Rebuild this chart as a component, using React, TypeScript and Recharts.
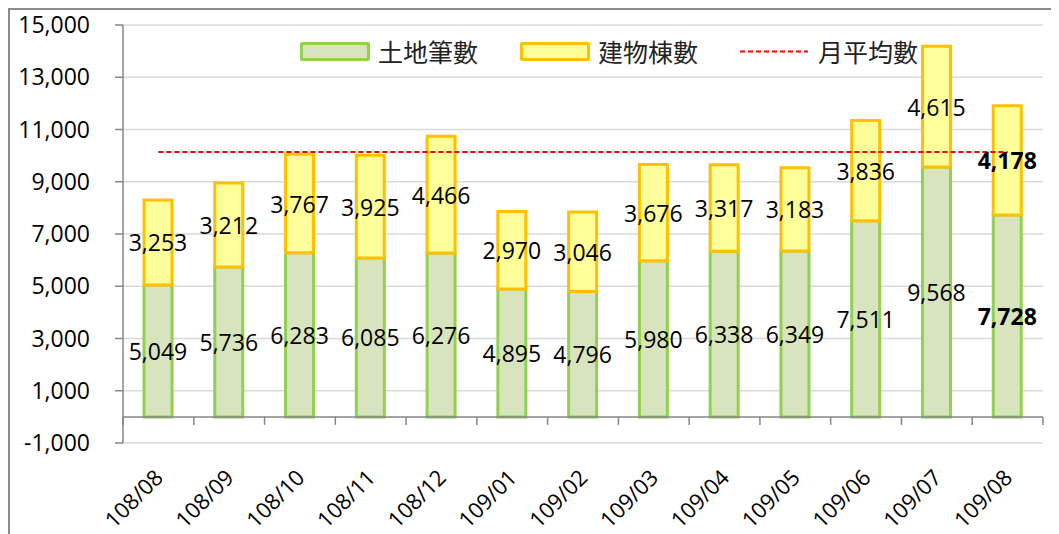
import { Bar, CartesianGrid, ComposedChart, LabelList, Legend, Line, ReferenceLine, XAxis, YAxis } from 'recharts';

const months = ['108/08', '108/09', '108/10', '108/11', '108/12', '109/01', '109/02', '109/03', '109/04', '109/05', '109/06', '109/07', '109/08'];
const landCounts = [5049, 5736, 6283, 6085, 6276, 4895, 4796, 5980, 6338, 6349, 7511, 9568, 7728];
const buildingCounts = [3253, 3212, 3767, 3925, 4466, 2970, 3046, 3676, 3317, 3183, 3836, 4615, 4178];
const monthlyAverage = [10140, 10140, 10140, 10140, 10140, 10140, 10140, 10140, 10140, 10140, 10140, 10140, 10140];
const yTicks = [-1000, 1000, 3000, 5000, 7000, 9000, 11000, 13000, 15000];

const data = months.map((m, i) => ({
  month: m,
  land: landCounts[i],
  building: buildingCounts[i],
  avg: monthlyAverage[i],
}));

const FONT = '"Open Sans", "Noto Sans", sans-serif';
const CJK = '"Noto Sans CJK TC", "Noto Sans", sans-serif';
const AXIS = '#868686';

const fmt = (v: number) => v.toLocaleString('en-US');

const BarLabel = (props: any) => {
  const { x, y, width, height, value, index } = props;
  const last = index === months.length - 1 || value === landCounts[12] || value === buildingCounts[12];
  return (
    <text
      x={x + width / 2}
      y={y + height / 2}
      textAnchor='middle'
      dominantBaseline='central'
      fontFamily={FONT}
      fontSize={23}
      fontWeight={last ? 700 : 400}
      fill='#000'
    >
      {fmt(value)}
    </text>
  );
};

const MonthTick = (props: any) => {
  const { x, y, payload } = props;
  return (
    <text
      transform={`translate(${x + 6},${y + 36}) rotate(-45)`}
      textAnchor='end'
      fontFamily={FONT}
      fontSize={22}
      fill='#000'
    >
      {payload.value}
    </text>
  );
};

// category axis drawn at zero, ticks between months
const ZeroAxis = (props: any) => {
  const { x1, x2, y1 } = props;
  const step = (x2 - x1) / months.length;
  return (
    <g>
      <line x1={x1} x2={x2} y1={y1} y2={y1} stroke={AXIS} strokeWidth={1.5} />
      {months.concat(['']).map((_, i) => (
        <line key={i} x1={x1 + i * step} x2={x1 + i * step} y1={y1} y2={y1 + 8} stroke={AXIS} strokeWidth={1.5} />
      ))}
    </g>
  );
};

const legendItems = [
  { label: '土地筆數', left: 290, kind: 'box', fill: '#D7E4BD', stroke: '#92D050' },
  { label: '建物棟數', left: 510, kind: 'box', fill: '#FFFF99', stroke: '#FFC000' },
  { label: '月平均數', left: 730, kind: 'line', fill: '', stroke: '#FF0000' },
];

const ChartLegend = () => (
  <div style={{ position: 'relative', height: 40 }}>
    {legendItems.map((it) => (
      <div
        key={it.label}
        style={{ position: 'absolute', left: it.left, top: 0, height: 40, display: 'flex', alignItems: 'center' }}
      >
        {it.kind === 'box' ? (
          <div
            style={{
              width: 70,
              height: 19,
              boxSizing: 'border-box',
              background: it.fill,
              border: `3px solid ${it.stroke}`,
              borderRadius: 2,
            }}
          />
        ) : (
          <svg width={70} height={19}>
            <line x1={0} x2={68} y1={9.5} y2={9.5} stroke={it.stroke} strokeWidth={2} strokeDasharray='5 3' />
          </svg>
        )}
        <span style={{ marginLeft: 8, fontFamily: CJK, fontSize: 25, color: '#222', lineHeight: '40px' }}>{it.label}</span>
      </div>
    ))}
  </div>
);

export default function App() {
  return (
    <div
      style={{
        width: 1051,
        height: 526,
        boxSizing: 'border-box',
        borderTop: '2px solid #8C8C8C',
        borderLeft: '2px solid #8C8C8C',
        background: '#fff',
      }}
    >
      <div style={{ marginTop: -10 }}>
        <ComposedChart width={1049} height={534} data={data} margin={{ top: 25, right: 16, left: 0, bottom: 0 }} barSize={28}>
          <CartesianGrid vertical={false} stroke='#D9D9D9' strokeWidth={1.5} />
          <XAxis
            dataKey='month'
            height={91}
            axisLine={false}
            tickLine={false}
            tickSize={0}
            tickMargin={0}
            interval={0}
            tick={<MonthTick />}
          />
          <YAxis
            width={113}
            domain={[-1000, 15000]}
            ticks={yTicks}
            interval={0}
            stroke={AXIS}
            axisLine={{ stroke: AXIS, strokeWidth: 1.5 }}
            tickLine={{ stroke: AXIS, strokeWidth: 1.5 }}
            tickSize={8}
            tickMargin={25}
            tickFormatter={fmt}
            tick={{ fill: '#000', fontFamily: FONT, fontSize: 23 }}
          />
          <Legend
            layout='horizontal'
            verticalAlign='middle'
            align='center'
            wrapperStyle={{ top: 31, left: 0, width: 1049, height: 40 }}
            content={() => <ChartLegend />}
          />
          <Bar dataKey='land' stackId='s' fill='#D7E4BD' stroke='#92D050' strokeWidth={3} isAnimationActive={false}>
            <LabelList dataKey='land' content={<BarLabel />} />
          </Bar>
          <Bar dataKey='building' stackId='s' fill='#FFFF99' stroke='#FFC000' strokeWidth={3} isAnimationActive={false}>
            <LabelList dataKey='building' content={<BarLabel />} />
          </Bar>
          <ReferenceLine y={0} shape={<ZeroAxis />} />
          <Line
            dataKey='avg'
            stroke='#FF0000'
            strokeWidth={2}
            strokeDasharray='5 3'
            dot={false}
            activeDot={false}
            legendType='none'
            isAnimationActive={false}
          />
        </ComposedChart>
      </div>
    </div>
  );
}
